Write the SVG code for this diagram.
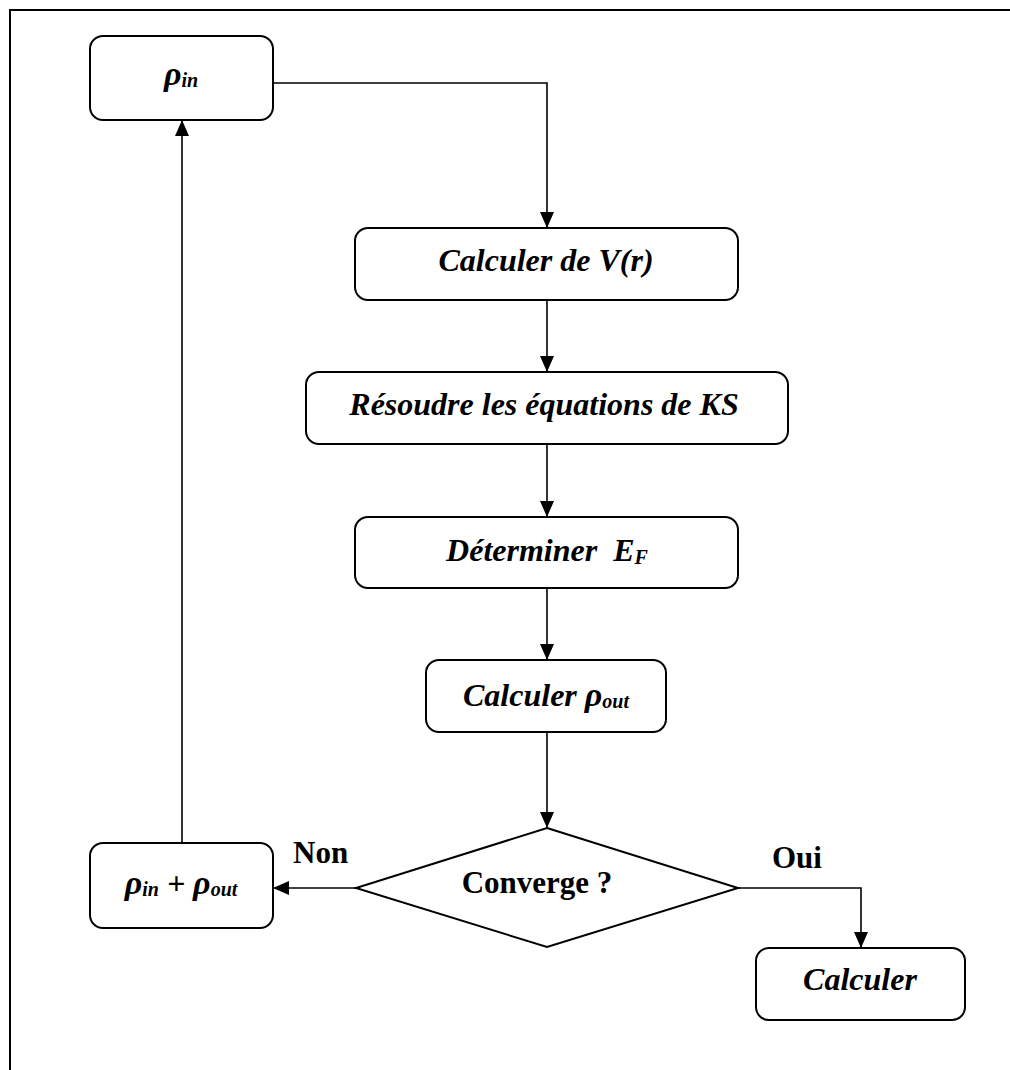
<svg xmlns="http://www.w3.org/2000/svg" width="1010" height="1070" viewBox="0 0 1010 1070">
<style>
  .box { fill: #ffffff; stroke: #000000; stroke-width: 2; }
  .frame { fill: none; stroke: #000000; stroke-width: 2; }
  .conn { fill: none; stroke: #000000; stroke-width: 1.6; }
  .t { font-family: "Liberation Serif", "Times New Roman", serif; font-size: 32px; font-weight: bold; font-style: italic; fill: #000000; text-anchor: middle; }
  .lbl { font-family: "Liberation Serif", "Times New Roman", serif; font-size: 31px; font-weight: bold; fill: #000000; }
  .sub { font-size: 20px; }
  .rho { font-size: 34px; }
</style>
<defs>
  <marker id="arrow" markerUnits="userSpaceOnUse" markerWidth="16" markerHeight="14" refX="16" refY="7" orient="auto">
    <path d="M0,0 L16,7 L0,14 z" fill="#000000"/>
  </marker>
</defs>
<rect x="0" y="0" width="1010" height="1070" fill="#ffffff"/>
<path class="frame" d="M10,1070 L10,10 L1010,10"/>

<g id="connectors">
  <path class="conn" d="M273,83 L547,83 L547,228" marker-end="url(#arrow)"/>
  <path class="conn" d="M547,300 L547,372" marker-end="url(#arrow)"/>
  <path class="conn" d="M547,444 L547,517" marker-end="url(#arrow)"/>
  <path class="conn" d="M547,588 L547,660" marker-end="url(#arrow)"/>
  <path class="conn" d="M547,732 L547,828" marker-end="url(#arrow)"/>
  <path class="conn" d="M356,888 L273,888" marker-end="url(#arrow)"/>
  <path class="conn" d="M738,888 L861,888 L861,948" marker-end="url(#arrow)"/>
  <path class="conn" d="M182,843 L182,120" marker-end="url(#arrow)"/>
</g>

<g id="rho-in">
  <rect class="box" x="90" y="36" width="183" height="84" rx="13"/>
  <text class="t" x="181" y="85"><tspan class="rho">ρ</tspan><tspan class="sub" dy="2">in</tspan></text>
</g>

<g id="calc-v">
  <rect class="box" x="355" y="228" width="383" height="72" rx="13"/>
  <text class="t" x="546" y="271">Calculer de V(r)</text>
</g>

<g id="resoudre">
  <rect class="box" x="306" y="372" width="482" height="72" rx="13"/>
  <text class="t" x="544" y="415">Résoudre les équations de KS</text>
</g>

<g id="determiner">
  <rect class="box" x="355" y="517" width="383" height="71" rx="13"/>
  <text class="t" x="547" y="561">Déterminer &#160;E<tspan class="sub" dy="3">F</tspan></text>
</g>

<g id="calc-rho-out">
  <rect class="box" x="426" y="660" width="240" height="72" rx="13"/>
  <text class="t" x="546" y="706">Calculer <tspan class="rho">ρ</tspan><tspan class="sub" dy="2">out</tspan></text>
</g>

<g id="converge">
  <polygon class="box" points="547,828 738,888 547,947 356,888"/>
  <text class="lbl" x="537" y="893" text-anchor="middle">Converge ?</text>
</g>

<g id="rho-mix">
  <rect class="box" x="90" y="843" width="183" height="85" rx="13"/>
  <text class="t" x="181" y="894"><tspan class="rho">ρ</tspan><tspan class="sub" dy="2">in</tspan><tspan dy="-2"> + </tspan><tspan class="rho">ρ</tspan><tspan class="sub" dy="2">out</tspan></text>
</g>

<g id="calculer">
  <rect class="box" x="756" y="948" width="209" height="72" rx="13"/>
  <text class="t" x="860" y="990">Calculer</text>
</g>

<g id="labels">
  <text class="lbl" x="293" y="863">Non</text>
  <text class="lbl" x="772" y="868">Oui</text>
</g>
</svg>
